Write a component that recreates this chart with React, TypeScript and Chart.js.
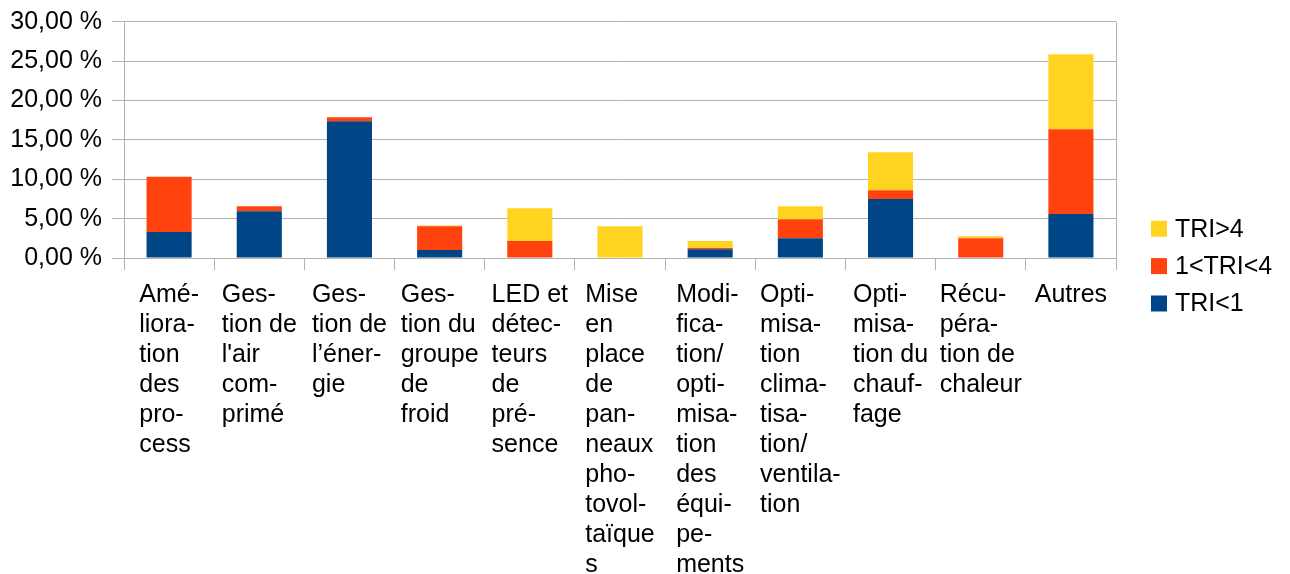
import React, { useEffect, useRef } from "react";
import { Chart, registerables } from "chart.js";

Chart.register(...registerables);

const categories: string[][] = [
  ["Amé-", "liora-", "tion", "des", "pro-", "cess"],
  ["Ges-", "tion de", "l'air", "com-", "primé"],
  ["Ges-", "tion de", "l’éner-", "gie"],
  ["Ges-", "tion du", "groupe", "de", "froid"],
  ["LED et", "détec-", "teurs", "de", "pré-", "sence"],
  ["Mise", "en", "place", "de", "pan-", "neaux", "pho-", "tovol-", "taïque", "s"],
  ["Modi-", "fica-", "tion/", "opti-", "misa-", "tion", "des", "équi-", "pe-", "ments"],
  ["Opti-", "misa-", "tion", "clima-", "tisa-", "tion/", "ventila-", "tion"],
  ["Opti-", "misa-", "tion du", "chauf-", "fage"],
  ["Récu-", "péra-", "tion de", "chaleur"],
  ["Autres"],
];

const triBelow1: number[] = [3.3, 5.93, 17.37, 1.02, 0, 0, 1.1, 2.5, 7.5, 0, 5.59];
const tri1to4: number[] = [7.0, 0.64, 0.5, 3.0, 2.16, 0, 0.17, 2.42, 1.1, 2.5, 10.76];
const triAbove4: number[] = [0, 0, 0, 0.12, 4.15, 4.03, 0.89, 1.65, 4.83, 0.26, 9.53];

const seriesNames = ["TRI<1", "1<TRI<4", "TRI>4"];
const seriesColors = ["#004586", "#ff420e", "#ffd320"];

const FONT = '"Liberation Sans", Arial, sans-serif';
const GRID = "#b3b3b3";

const customDraw = {
  id: "customDraw",
  afterDraw(chart: any) {
    const { ctx, chartArea, scales } = chart;
    const x = scales.x;
    ctx.save();
    // right border of plot area
    ctx.strokeStyle = GRID;
    ctx.lineWidth = 1;
    ctx.beginPath();
    ctx.moveTo(Math.round(chartArea.right) + 0.5, chartArea.top);
    ctx.lineTo(Math.round(chartArea.right) + 0.5, chartArea.bottom);
    ctx.stroke();

    // category labels: block centered, lines left-aligned
    ctx.font = "25px " + FONT;
    ctx.fillStyle = "#000";
    ctx.textBaseline = "alphabetic";
    ctx.textAlign = "left";
    categories.forEach((lines, i) => {
      const cx = x.getPixelForValue(i);
      let maxW = 0;
      lines.forEach((l) => {
        maxW = Math.max(maxW, ctx.measureText(l).width);
      });
      const left = cx - maxW / 2;
      lines.forEach((l, j) => {
        ctx.fillText(l, left, chartArea.bottom + 44 + j * 30);
      });
    });

    // legend (reverse order)
    const lx = chartArea.right + 35;
    const y0 = chartArea.bottom - 29.3;
    for (let k = 0; k < 3; k++) {
      const idx = 2 - k;
      const cy = y0 + k * 37.4;
      ctx.fillStyle = seriesColors[idx];
      ctx.fillRect(lx, cy - 8, 16, 16);
      ctx.fillStyle = "#000";
      ctx.textBaseline = "middle";
      ctx.fillText(seriesNames[idx], lx + 24, cy + 1);
    }
    ctx.restore();
  },
};

export default function App() {
  const ref = useRef<HTMLCanvasElement | null>(null);
  useEffect(() => {
    if (!ref.current) return;
    const chart = new Chart(ref.current, {
      type: "bar",
      data: {
        labels: categories.map((c) => c.join(" ")),
        datasets: [
          { label: seriesNames[0], data: triBelow1, backgroundColor: seriesColors[0] },
          { label: seriesNames[1], data: tri1to4, backgroundColor: seriesColors[1] },
          { label: seriesNames[2], data: triAbove4, backgroundColor: seriesColors[2] },
        ],
      },
      options: {
        animation: false,
        responsive: true,
        maintainAspectRatio: false,
        layout: { padding: { left: 0, right: 166, bottom: 304, top: 0 } },
        datasets: { bar: { barPercentage: 0.5, categoryPercentage: 1.0, borderWidth: 0 } },
        plugins: { legend: { display: false }, tooltip: { enabled: false } },
        scales: {
          x: {
            stacked: true,
            offset: true,
            ticks: { display: false },
            grid: {
              display: true,
              offset: true,
              drawOnChartArea: false,
              drawTicks: true,
              tickLength: 12,
              color: GRID,
            },
            border: { display: true, color: GRID },
          },
          y: {
            stacked: true,
            min: 0,
            max: 30,
            afterFit: (scale: any) => {
              scale.width = 116;
              scale.paddingTop = 13.7;
              scale.paddingBottom = 0;
            },
            ticks: {
              stepSize: 5,
              padding: 10,
              color: "#000",
              font: { family: FONT, size: 25, lineHeight: 1.1 },
              callback: (v: any) => Number(v).toFixed(2).replace(".", ",") + " %",
            },
            grid: { color: GRID, drawTicks: true, tickLength: 12 },
            border: { display: true, color: GRID },
          },
        },
      },
      plugins: [customDraw],
    });
    return () => chart.destroy();
  }, []);
  return (
    <div style={{ position: "relative", width: "1274px", height: "566px" }}>
      <canvas ref={ref} />
    </div>
  );
}
